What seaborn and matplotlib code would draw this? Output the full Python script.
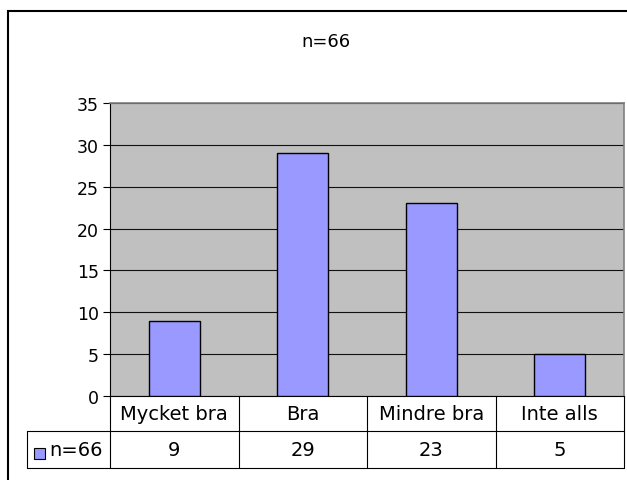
import matplotlib
matplotlib.use("Agg")
import matplotlib.pyplot as plt
from matplotlib.patches import Rectangle
from matplotlib.lines import Line2D
import seaborn as sns
import pandas as pd

categories = ["Mycket bra", "Bra", "Mindre bra", "Inte alls"]
values = [9, 29, 23, 5]
series_name = "n=66"
title = "n=66"
yticks = [0, 5, 10, 15, 20, 25, 30, 35]

sns.set_style("white")
plt.rcParams["font.family"] = ["DejaVu Sans"]
plt.rcParams["text.color"] = "black"
plt.rcParams["ytick.color"] = "black"
plt.rcParams["ytick.labelcolor"] = "black"

W, H = 627, 481
fig = plt.figure(figsize=(W / 100, H / 100), dpi=100)
fig.patch.set_facecolor("white")

L, R, T, B = 110, 624, 104, 397
ax = fig.add_axes([L / W, 1 - B / H, (R - L) / W, (B - T) / H])

df = pd.DataFrame({"cat": categories, "val": values})
sns.barplot(data=df, x="cat", y="val", ax=ax, color="#9999FF", width=0.4,
            edgecolor="black", linewidth=1.0, saturation=1, zorder=3)

ax.set_facecolor("#C0C0C0")
ax.set_xlim(-0.5, 3.5)
ax.set_ylim(0, 35)
ax.set_yticks(yticks)
ax.set_yticklabels([str(v) for v in yticks], fontsize=12.5, color="black")
ax.yaxis.grid(True, color="#111111", linewidth=0.8, zorder=0)
ax.set_axisbelow(True)
ax.tick_params(axis="y", which="both", left=True, length=5, width=0.8,
               color="black", labelcolor="black", pad=3)
ax.set_xticks([])
ax.set_xlabel("")
ax.set_ylabel("")
for side in ["top", "right"]:
    ax.spines[side].set_color("#808080")
    ax.spines[side].set_linewidth(1.2)
ax.spines["left"].set_color("black")
ax.spines["left"].set_linewidth(0.8)
ax.spines["bottom"].set_color("black")
ax.spines["bottom"].set_linewidth(0.8)

# data table below the axes (axes coordinates)
tr = ax.transAxes
ph = B - T
pw = R - L
row1 = (B - 432) / ph
row2 = (B - 469) / ph
legx = (27 - L) / pw
n = len(categories)

def line(x0, y0, x1, y1):
    ax.add_line(Line2D([x0, x1], [y0, y1], transform=tr, color="black",
                       linewidth=0.8, clip_on=False))

line(0, 0, 0, row2)
line(1, 0, 1, row2)
for i in range(1, n):
    line(i / n, 0, i / n, row2)
line(legx, row1, 1, row1)
line(legx, row2, 1, row2)
line(legx, row1, legx, row2)

for i, (c, v) in enumerate(zip(categories, values)):
    xc = (i + 0.5) / n
    ax.text(xc, row1 / 2, c, transform=tr, ha="center", va="center",
            fontsize=14, color="black", clip_on=False)
    ax.text(xc, (row1 + row2) / 2, str(v), transform=tr, ha="center",
            va="center", fontsize=14, color="black", clip_on=False)

# legend key in table
kx0 = (34 - L) / pw
kw = 11 / pw
ky = (B - 460) / ph
kh = 11 / ph
ax.add_patch(Rectangle((kx0, ky), kw, kh, transform=tr, facecolor="#9999FF",
                       edgecolor="black", linewidth=0.8, clip_on=False))
ax.text((49 - L) / pw, (row1 + row2) / 2, series_name, transform=tr,
        ha="left", va="center", fontsize=14, color="black", clip_on=False)

# title
fig.text(326 / W, 1 - 42 / H, title, ha="center", va="center", fontsize=13,
         color="black")

# outer chart frame
fig.add_artist(Rectangle((8 / W, -0.2), 1.2, 1.2 - 12 / H,
                         transform=fig.transFigure, facecolor="none",
                         edgecolor="black", linewidth=1.5))

fig.savefig("out.png", dpi=100)
